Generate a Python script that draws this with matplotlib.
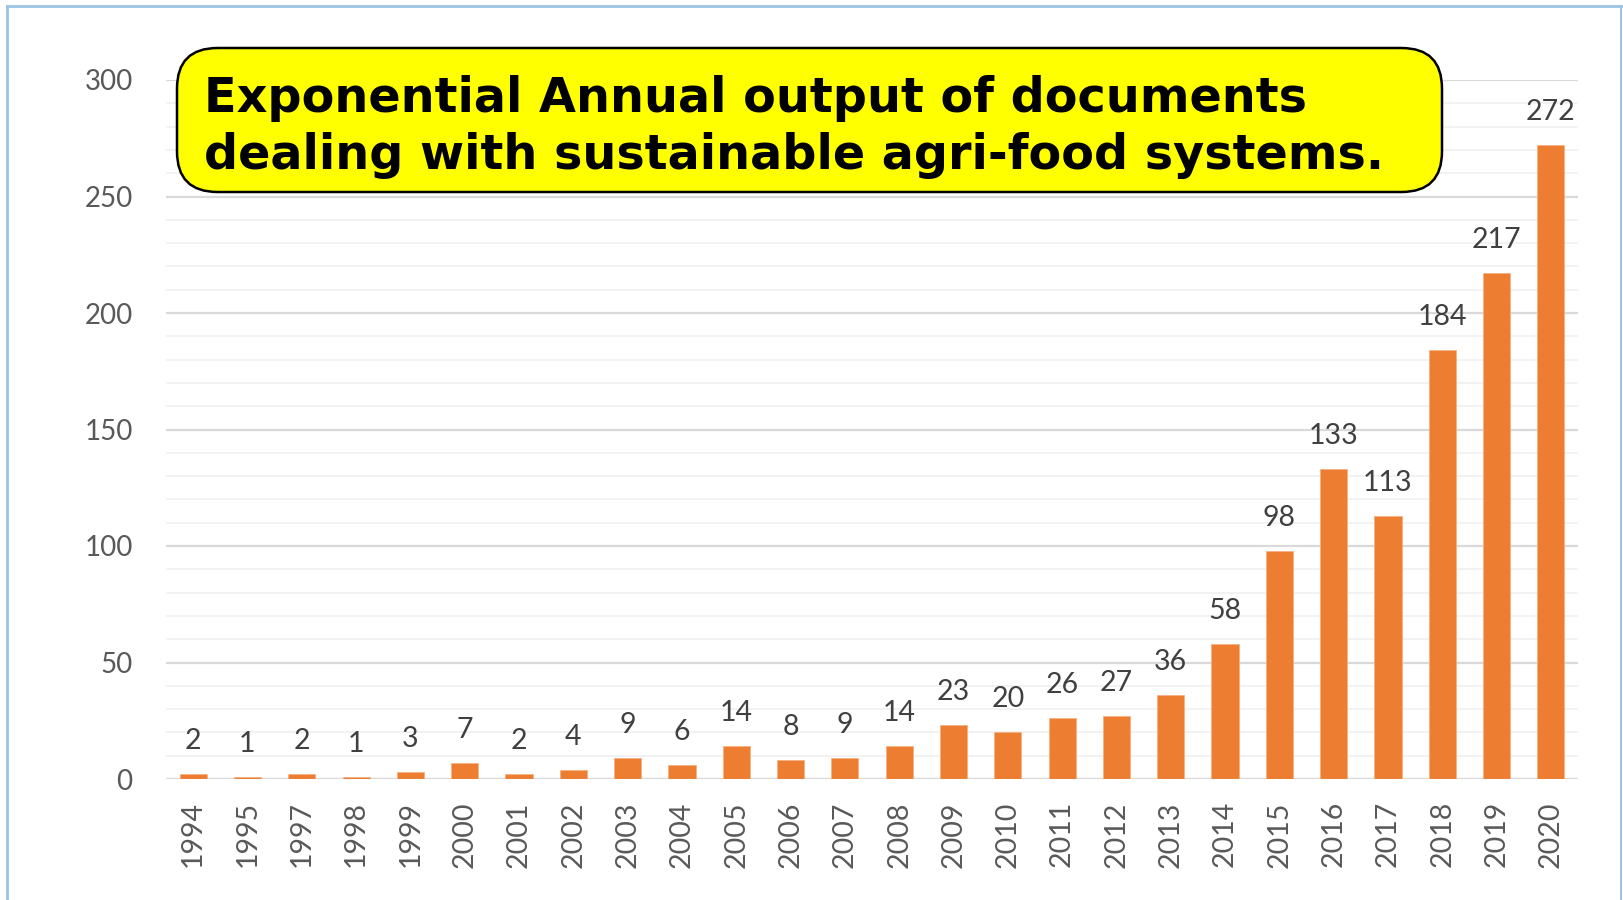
import matplotlib
matplotlib.use('Agg')
import matplotlib.pyplot as plt
from matplotlib.patches import FancyBboxPatch
from matplotlib.lines import Line2D

years = ['1994', '1995', '1997', '1998', '1999', '2000', '2001', '2002', '2003',
         '2004', '2005', '2006', '2007', '2008', '2009', '2010', '2011', '2012',
         '2013', '2014', '2015', '2016', '2017', '2018', '2019', '2020']
docs = [2, 1, 2, 1, 3, 7, 2, 4, 9, 6, 14, 8, 9, 14, 23, 20, 26, 27, 36, 58,
        98, 133, 113, 184, 217, 272]
title_lines = ['Exponential Annual output of documents',
               'dealing with sustainable agri-food systems.']

plt.rcParams['font.family'] = ['Lato', 'DejaVu Sans']

W, H = 1623, 900
fig = plt.figure(figsize=(W / 100, H / 100), dpi=100)
ax = fig.add_axes([166 / W, 1 - 779 / H, (1578 - 166) / W, (779 - 80) / H])

x = range(len(years))
ax.bar(x, docs, width=0.5, color='#ED7D31', edgecolor='#F4B183', linewidth=0.6, zorder=3)
for i, v in enumerate(docs):
    ax.annotate(str(v), (i, v), xytext=(0, 18), textcoords='offset points',
                ha='center', va='baseline', fontsize=20.5, color='#404040')

ax.set_xlim(-0.5, len(years) - 0.5)
ax.set_ylim(0, 300)
ax.set_yticks(range(0, 301, 50))
ax.set_yticks(range(0, 301, 10), minor=True)
ax.set_xticks(list(x))
ax.set_xticklabels(years, rotation=90)
ax.tick_params(axis='y', which='both', length=0, pad=24, labelsize=20, labelcolor='#595959')
ax.tick_params(axis='x', length=0, pad=16, labelsize=20.5, labelcolor='#595959')
ax.grid(axis='y', which='major', color='#D9D9D9', linewidth=1.6, zorder=0)
ax.grid(axis='y', which='minor', color='#F2F2F2', linewidth=1.4, zorder=0)
for s in ax.spines.values():
    s.set_visible(False)
ax.axhline(0, color='#D9D9D9', linewidth=1.6, zorder=2)

# title box
box = FancyBboxPatch((177 / W, 1 - 192 / H), (1442 - 177) / W, (192 - 48) / H,
                     boxstyle='round,pad=0,rounding_size=0.025',
                     transform=fig.transFigure, facecolor='#FFFF00',
                     edgecolor='black', linewidth=1.8, zorder=5,
                     mutation_aspect=W / H)
fig.add_artist(box)
fig.text(204 / W, 1 - 112 / H, title_lines[0], fontsize=34.4, fontweight='bold',
         family='DejaVu Sans', va='baseline', ha='left', zorder=6)
fig.text(204 / W, 1 - 169 / H, title_lines[1], fontsize=34.4, fontweight='bold',
         family='DejaVu Sans', va='baseline', ha='left', zorder=6)

# frame lines
bc = '#9DC3E6'
fig.add_artist(Line2D([7 / W, 7 / W], [0, 1 - 6 / H], color=bc, linewidth=2, transform=fig.transFigure))
fig.add_artist(Line2D([7 / W, 1], [1 - 6 / H, 1 - 6 / H], color=bc, linewidth=2, transform=fig.transFigure))
fig.add_artist(Line2D([1621 / W, 1621 / W], [0, 1 - 6 / H], color=bc, linewidth=1.5, transform=fig.transFigure))

fig.savefig('out.png', dpi=100)
